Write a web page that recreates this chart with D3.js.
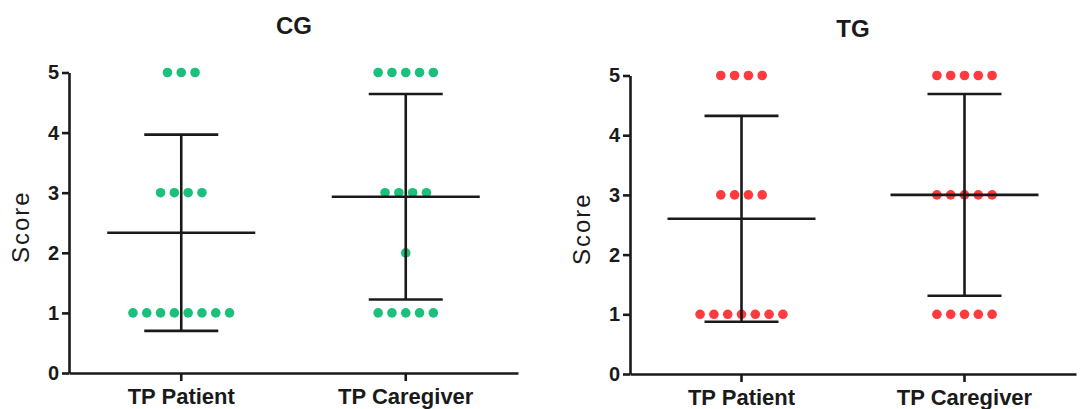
<!DOCTYPE html>
<html lang="en">
<head>
    <meta charset="UTF-8">
    <title>CG / TG scores</title>
    <style>
        body {
            margin: 0;
            padding: 0;
            background-color: #ffffff;
        }
        svg {
            display: block;
        }
        text {
            font-family: "Liberation Sans", Arial, sans-serif;
            fill: #1a1a1a;
        }
    </style>
    <script src="https://d3js.org/d3.v7.min.js"></script>
</head>
<body>
    <script>
        const width = 1083;
        const height = 409;

        // categories and tick labels
        const categories = ["TP Patient", "TP Caregiver"];
        const yTicks = [0, 1, 2, 3, 4, 5];

        // individual scores
        const cgPatient = [5, 5, 5, 3, 3, 3, 3, 1, 1, 1, 1, 1, 1, 1, 1];
        const cgCaregiver = [5, 5, 5, 5, 5, 3, 3, 3, 3, 2, 1, 1, 1, 1, 1];
        const tgPatient = [5, 5, 5, 5, 3, 3, 3, 3, 1, 1, 1, 1, 1, 1, 1];
        const tgCaregiver = [5, 5, 5, 5, 5, 3, 3, 3, 3, 3, 1, 1, 1, 1, 1];

        const panels = [
            { title: "CG", color: "#1cc07d", series: [cgPatient, cgCaregiver],
              x0: 69, x1: 518, yBottom: 373, yTop: 72.5, titleX: 294, titleY: 34 },
            { title: "TG", color: "#ff3b3f", series: [tgPatient, tgCaregiver],
              x0: 630, x1: 1076, yBottom: 374, yTop: 75.5, titleX: 853, titleY: 37 }
        ];

        const svg = d3.select("body").append("svg")
            .attr("width", width)
            .attr("height", height);

        const dotGap = 13.8;
        const dotR = 4.8;
        const meanHalf = 74;
        const capHalf = 37;

        panels.forEach(function(p) {
            const g = svg.append("g");

            const x = d3.scaleBand()
                .domain(categories)
                .range([p.x0, p.x1])
                .padding(0);

            const y = d3.scaleLinear()
                .domain([0, 5])
                .range([p.yBottom, p.yTop]);

            // title
            g.append("text")
                .attr("x", p.titleX)
                .attr("y", p.titleY)
                .attr("text-anchor", "middle")
                .style("font-size", "24px")
                .style("font-weight", "bold")
                .text(p.title);

            // y label
            g.append("text")
                .attr("transform", `translate(${p.x0 - 40},${(p.yBottom + p.yTop) / 2 + 4}) rotate(-90)`)
                .attr("text-anchor", "middle")
                .style("font-size", "24px")
                .style("letter-spacing", "2px")
                .text("Score");

            // dots (drawn first so the bars sit on top)
            p.series.forEach(function(vals, si) {
                const cx = x(categories[si]) + x.bandwidth() / 2;
                const groups = d3.group(vals, v => v);
                groups.forEach(function(row, v) {
                    g.selectAll(null)
                        .data(row)
                        .enter().append("circle")
                        .attr("cx", (d, i) => cx + (i - (row.length - 1) / 2) * dotGap)
                        .attr("cy", y(v))
                        .attr("r", dotR)
                        .attr("fill", p.color);
                });
            });

            // mean and SD bars
            p.series.forEach(function(vals, si) {
                const cx = x(categories[si]) + x.bandwidth() / 2;
                const m = d3.mean(vals);
                const sd = d3.deviation(vals);
                const lines = [
                    [cx - meanHalf, y(m), cx + meanHalf, y(m)],
                    [cx - capHalf, y(m + sd), cx + capHalf, y(m + sd)],
                    [cx - capHalf, y(m - sd), cx + capHalf, y(m - sd)],
                    [cx, y(m + sd), cx, y(m - sd)]
                ];
                g.selectAll(null)
                    .data(lines)
                    .enter().append("line")
                    .attr("x1", d => d[0])
                    .attr("y1", d => d[1])
                    .attr("x2", d => d[2])
                    .attr("y2", d => d[3])
                    .attr("stroke", "#1a1a1a")
                    .attr("stroke-width", 2.6);
            });

            // axes
            const yAxis = g.append("g")
                .attr("transform", `translate(${p.x0},0)`)
                .call(d3.axisLeft(y).tickValues(yTicks).tickFormat(d3.format("d"))
                    .tickSize(7).tickSizeOuter(0).tickPadding(3));

            const xAxis = g.append("g")
                .attr("transform", `translate(0,${p.yBottom})`)
                .call(d3.axisBottom(x).tickSize(8).tickSizeOuter(0).tickPadding(7));

            [yAxis, xAxis].forEach(function(a) {
                a.select(".domain").attr("stroke", "#1a1a1a").attr("stroke-width", 2.6);
                a.selectAll(".tick line").attr("stroke", "#1a1a1a").attr("stroke-width", 2.6);
            });
            yAxis.selectAll(".tick text")
                .style("font-size", "20px")
                .style("font-weight", "bold")
                .attr("fill", "#1a1a1a");
            xAxis.selectAll(".tick text")
                .style("font-size", "22px")
                .style("font-weight", "bold")
                .attr("fill", "#1a1a1a");
        });
    </script>
</body>
</html>
